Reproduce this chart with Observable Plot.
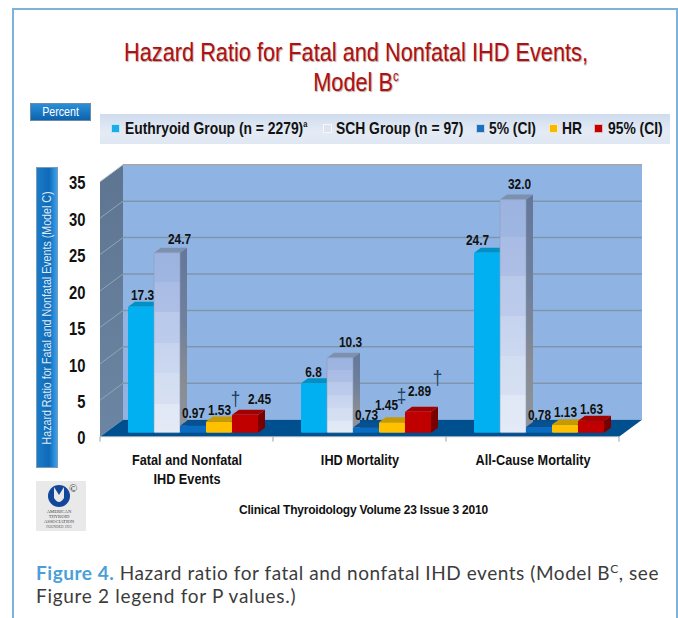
<!DOCTYPE html>
<html>
<head>
<meta charset="utf-8">
<script src="https://cdn.jsdelivr.net/npm/d3@7"></script>
<script src="https://cdn.jsdelivr.net/npm/@observablehq/plot@0.6"></script>
<style>
html,body{margin:0;padding:0;background:#fff;}
#page{position:relative;width:678px;height:618px;overflow:hidden;font-family:"Liberation Sans",Arial,sans-serif;}
#page>*{position:absolute;}
#frameT{left:12px;top:8px;width:666px;height:2px;background:#7fb2d9;}
#frameL{left:12px;top:8px;bottom:0;width:2px;background:#7fb2d9;}
#frameR{left:676px;top:8px;bottom:0;width:2px;background:#7fb2d9;}
.title{left:15px;width:682px;text-align:center;color:#b30f0f;font:26px/30px "Liberation Sans",sans-serif;text-shadow:1px 1px 1px rgba(0,0,0,.35);transform:scaleX(.836);}
#percent{left:30px;top:103px;width:61px;height:18px;box-sizing:border-box;border:1px solid #6f8ba5;background:linear-gradient(#2a8fd8,#0d62ad);color:#fff;font:13px/16px "Liberation Sans",sans-serif;text-align:center;}
#percent div{transform:scaleX(.82);}
#legend{left:100px;top:114px;width:570px;height:30px;background:linear-gradient(#cfdcee,#e4ebf5 60%,#dfe7f2);color:#111;font:bold 17px/30px "Liberation Sans",sans-serif;}
#legend span{position:absolute;top:0;white-space:nowrap;transform:scaleX(.815);transform-origin:0 50%;}
#legend i{position:absolute;top:10px;width:9px;height:9px;box-sizing:border-box;border:1px solid rgba(255,255,255,.7);}
#ylab{left:36px;top:167px;width:22px;height:301px;box-sizing:border-box;border:1px solid #7d9bb5;background:linear-gradient(90deg,#1c7cc8,#0f6ab8 60%,#3aa0ee);}
#ylab div{position:absolute;left:10px;top:150px;width:340px;margin-left:-170px;margin-top:-8px;text-align:center;color:#dfeaf5;font:13px/16px "Liberation Sans",sans-serif;transform:rotate(-90deg) scaleX(.82);white-space:nowrap;}
#plot{left:0;top:150px;}
#cite{left:239px;top:503px;font:bold 12px/14px "Liberation Sans",sans-serif;color:#111;letter-spacing:-.22px;white-space:nowrap;}
#logo{left:36px;top:481px;}
.cap{left:36px;font:19px/23px "Lato",sans-serif;color:#3c3c3c;white-space:nowrap;}
.cap b{color:#4a9fd8;}
.cap sup{font-size:12px;line-height:0;}
#plot svg text{font-family:"Liberation Sans",sans-serif;}
</style>
</head>
<body>
<div id="page">
  <div id="frameT"></div><div id="frameL"></div><div id="frameR"></div>
  <div class="title" style="top:37px">Hazard Ratio for Fatal and Nonfatal IHD Events,</div>
  <div class="title" style="top:67px">Model B<sup style="font-size:14px;line-height:0">c</sup></div>
  <div id="percent"><div>Percent</div></div>
  <div id="legend"></div>
  <div id="plot"></div>
  <div id="ylab"><div>Hazard Ratio for Fatal and Nonfatal Events (Model C)</div></div>
  <svg id="logo" width="50" height="50" viewBox="0 0 50 50" font-family="Liberation Serif">
    <rect width="50" height="50" fill="#e9e9e9"/>
    <ellipse cx="23" cy="15" rx="11" ry="11" fill="#12479a"/>
    <path d="M18 6 L23 14 L28 6 L28 17 Q23 25 18 17Z" fill="#e9e9e9"/>
    <text x="33" y="11" font-size="11" fill="#333">©</text>
    <text x="23" y="32" font-size="4.6" text-anchor="middle" fill="#444">AMERICAN</text>
    <text x="23" y="37" font-size="4.6" text-anchor="middle" fill="#444">THYROID</text>
    <text x="23" y="42" font-size="4.6" text-anchor="middle" fill="#444">ASSOCIATION</text>
    <text x="23" y="47" font-size="3.6" text-anchor="middle" fill="#555">FOUNDED 1923</text>
  </svg>
  <div id="cite">Clinical Thyroidology Volume 23 Issue 3 2010</div>
  <div class="cap" style="top:561px;letter-spacing:.55px"><b>Figure 4.</b> Hazard ratio for fatal and nonfatal IHD events (Model B<sup>C</sup>, see</div>
  <div class="cap" style="top:584px;letter-spacing:.7px">Figure 2 legend for P values.)</div>
</div>
<script>
// ---------- data ----------
const categories = ["Fatal and Nonfatal IHD Events", "IHD Mortality", "All-Cause Mortality"];
const categoryLines = ["Fatal and Nonfatal\nIHD Events", "IHD Mortality", "All-Cause Mortality"];
const seriesNames = ["Euthryoid Group", "SCH Group", "5% (CI)", "HR", "95% (CI)"];
const euthyroid = [17.3, 6.8, 24.7];
const sch = [24.7, 10.3, 32.0];
const ci5 = [0.97, 0.73, 0.78];
const hr = [1.53, 1.45, 1.13];
const ci95 = [2.45, 2.89, 1.63];
const valueLabels = [
  ["17.3", "6.8", "24.7"],
  ["24.7", "10.3", "32.0"],
  ["0.97", "0.73", "0.78"],
  ["1.53", "1.45", "1.13"],
  ["2.45", "2.89", "1.63"]
];
const yTicks = [0, 5, 10, 15, 20, 25, 30, 35];
const daggers = [
  {category: categories[0], series: "HR", value: hr[0], mark: "†"},
  {category: categories[1], series: "HR", value: hr[1], mark: "‡"},
  {category: categories[1], series: "95% (CI)", value: ci95[1], mark: "†"}
];
const legendItems = [
  {name: "Euthryoid Group (n = 2279)", sup: "a", series: 0},
  {name: "SCH Group (n = 97)", series: 1},
  {name: "5% (CI)", series: 2},
  {name: "HR", series: 3},
  {name: "95% (CI)", series: 4}
];
const allValues = [euthyroid, sch, ci5, hr, ci95];
const rows = [];
seriesNames.forEach((s, si) => categories.forEach((c, ci) =>
  rows.push({category: c, series: s, value: allValues[si][ci], label: valueLabels[si][ci], si, ci})));

// ---------- style ----------
const front = ["#00b0f0", "url(#schFront)", "#0a6cc0", "#ffc000", "#c00000"];
const topFace = ["#0090c6", "#7d90ae", "#08508f", "#c99a00", "#a30000"];
const sideFace = ["#0090c6", "url(#schSide)", "#07457e", "#b88a00", "#7a0000"];
const legendSwatch = ["#19aee8", "#dfe5ee", "#1b6fbd", "#f7b900", "#c00000"];
const depth = [7, 5];          // bar extrusion
const wall = [23, 17];         // back-wall offset
const sink = 4;                // bars sit slightly behind the front edge
const squeeze = 0.82;          // the reference's lettering is condensed
// label nudges [dx, dy] relative to the bar's top-centre, by [series][category]
const labelNudge = [
  [[0, -12], [-2, -11], [-11, -13]],
  [[11, -14], [9, -16], [5, -16]],
  [[-1, -13], [-1, -13], [-1, -12]],
  [[-1, -12], [-7, -17], [-1, -13]],
  [[13, -16], [0, -21], [-1, -12]]
];
const daggerNudge = [[15, -23], [8, -26], [18, -34]];

// legend
const legendEl = document.getElementById("legend");
const swatchX = [11, 223, 376, 449, 494], textX = [25, 236, 389, 462, 508];
legendItems.forEach((d, i) => {
  const sw = document.createElement("i");
  sw.style.left = swatchX[i] + "px";
  sw.style.background = legendSwatch[d.series];
  legendEl.appendChild(sw);
  const t = document.createElement("span");
  t.style.left = textX[i] + "px";
  t.innerHTML = d.name + (d.sup ? `<sup style="font-size:9px;line-height:0">${d.sup}</sup>` : "");
  legendEl.appendChild(t);
});

// ---------- custom renders ----------
const NS = "http://www.w3.org/2000/svg";
function poly(parent, pts, fill, extra = {}) {
  const p = document.createElementNS(NS, "polygon");
  p.setAttribute("points", pts.map(d => d.join(",")).join(" "));
  p.setAttribute("fill", fill);
  for (const k in extra) p.setAttribute(k, extra[k]);
  parent.appendChild(p);
  return p;
}
function seg(parent, x1, y1, x2, y2, stroke, w) {
  const l = document.createElementNS(NS, "line");
  for (const [k, v] of Object.entries({x1, y1, x2, y2, stroke, "stroke-width": w})) l.setAttribute(k, v);
  parent.appendChild(l);
}
// back wall, side wall, floor and grid, all placed by the plot's scales
function renderStage(index, scales, values, dim, ctx, next) {
  const g = document.createElementNS(NS, "g");
  const defs = document.createElementNS(NS, "defs");
  const stops = (id, list) =>
    `<linearGradient id="${id}" x1="0" y1="0" x2="0" y2="1">` +
    list.map(([o, c]) => `<stop offset="${o}" stop-color="${c}"/>`).join("") + `</linearGradient>`;
  defs.innerHTML =
    stops("schFront", [[0,"#9cb2df"],[.16,"#9fb5e2"],[.16,"#a9bce5"],[.33,"#aebfe6"],[.33,"#b9c9ea"],[.5,"#bccbeb"],[.5,"#c6d3ee"],[.67,"#ccd8f0"],[.67,"#d3ddf1"],[.84,"#d6e0f2"],[.84,"#e0e7f5"],[1,"#e4ebf7"]]) +
    stops("schSide", [[0,"#64779a"],[.4,"#70809c"],[.7,"#888b92"],[1,"#8f949c"]]) +
    stops("wallSide", [[0,"#5d7590"],[1,"#6c85a2"]]);
  g.appendChild(defs);
  const L = dim.marginLeft, R = dim.width - dim.marginRight;
  const yBase = scales.y(0), yTop = scales.y(35);
  const [wx, wy] = wall;
  poly(g, [[L + wx, yTop - wy], [R + wx, yTop - wy], [R + wx, yBase - wy], [L + wx, yBase - wy]], "#8fb4e3");
  poly(g, [[L, yTop], [L + wx, yTop - wy], [L + wx, yBase - wy], [L, yBase]], "url(#wallSide)");
  seg(g, L, yTop, L + wx, yTop - wy, "#b9c4d0", 1);
  seg(g, L + wx, yTop - wy, R + wx, yTop - wy, "#a7a7a7", 1.5);
  for (const t of yTicks.slice(1, -1)) {
    const y = scales.y(t);
    seg(g, L, y, L + wx, y - wy, "#8fa5bb", 1);
    seg(g, L + wx, y - wy, R + wx, y - wy, "#7f95ad", 1.5);
  }
  poly(g, [[L, yBase], [R, yBase], [R + wx, yBase - wy], [L + wx, yBase - wy]], "#004f8e");
  seg(g, L, yBase, R, yBase, "#aab4be", 1);
  const step = (R - L) / categories.length;
  for (let i = 0; i <= categories.length; i++) {
    const x = L + i * step;
    seg(g, x, yBase, x, yBase + 5, "#9aa3ad", 1);
  }
  return g;
}
// extruded bars: the front faces come from Plot's barY, sides and tops are added behind them
function renderBars(index, scales, values, dim, ctx, next) {
  const out = document.createElementNS(NS, "g");
  out.setAttribute("transform", `translate(0,${-sink})`);
  const faces = document.createElementNS(NS, "g");
  out.appendChild(faces);
  const bw = scales.x.bandwidth();
  const [dx, dy] = depth;
  for (const i of index) {
    const d = rows[i];
    const x0 = scales.x(d.series), x1 = x0 + bw, yT = scales.y(d.value), yB = scales.y(0);
    poly(faces, [[x1, yT], [x1 + dx, yT - dy], [x1 + dx, yB - dy], [x1, yB]], sideFace[d.si]);
    poly(faces, [[x0, yT], [x0 + dx, yT - dy], [x1 + dx, yT - dy], [x1, yT]], topFace[d.si]);
  }
  out.appendChild(next(index, scales, values, dim, ctx));
  return out;
}
// nudge each text of a text mark by a per-datum offset
const nudged = lookup => (index, scales, values, dim, ctx, next) => {
  const g = next(index, scales, values, dim, ctx);
  g.querySelectorAll("text").forEach((t, j) => {
    const [dx, dy] = lookup(index[j]);
    t.setAttribute("transform", `translate(${dx},${dy}) ` + (t.getAttribute("transform") || ""));
  });
  return g;
};

const topOfSvg = 150;
const chart = Plot.plot({
  width: 678, height: 340,
  marginLeft: 100, marginRight: 58.7, marginTop: 181.7 - topOfSvg, marginBottom: 490 - 436.7,
  style: {background: "transparent", overflow: "visible"},
  y: {domain: [0, 35], label: null},
  fx: {domain: categories, padding: 0, label: null},
  x: {domain: seriesNames, paddingInner: 0, paddingOuter: 0.76, align: 0.66, axis: null},
  marks: [
    Plot.frame({facet: "super", stroke: "none", render: renderStage}),
    Plot.axisY({ticks: yTicks, tickSize: 0, tickPadding: 15, fontSize: 18, fontWeight: "bold", fill: "#111", label: null, dy: 1.5}),
    Plot.axisFx({anchor: "bottom", tickSize: 0, tickPadding: 14, fontSize: 15.5, fontWeight: "bold", fill: "#111", label: null, lineHeight: 1.22,
      tickFormat: c => categoryLines[categories.indexOf(c)], textOverflow: null}),
    Plot.barY(rows, {fx: "category", x: "series", y: "value", fill: d => front[d.si], rx: 1, stroke: d => d.si === 1 ? "#8fa0bb" : "none", strokeWidth: .6, render: renderBars}),
    Plot.text(rows, {fx: "category", x: "series", y: "value", text: "label", fontSize: 14.5, fontWeight: "bold", fill: "#111",
      render: nudged(i => { const d = rows[i]; const n = labelNudge[d.si][d.ci]; return [n[0] + 1, n[1] - sink]; })}),
    Plot.text(daggers, {fx: "category", x: "series", y: "value", text: "mark", fontSize: 21, fill: "#1d3c5c", fontFamily: "Liberation Serif",
      render: nudged(i => [daggerNudge[i][0] + 1, daggerNudge[i][1] - sink])})
  ]
});
chart.querySelectorAll("text").forEach(t => {
  const tr = t.getAttribute("transform");
  if (tr) t.setAttribute("transform", tr + ` scale(${squeeze},1)`);
});
document.getElementById("plot").appendChild(chart);
</script>
</body>
</html>
